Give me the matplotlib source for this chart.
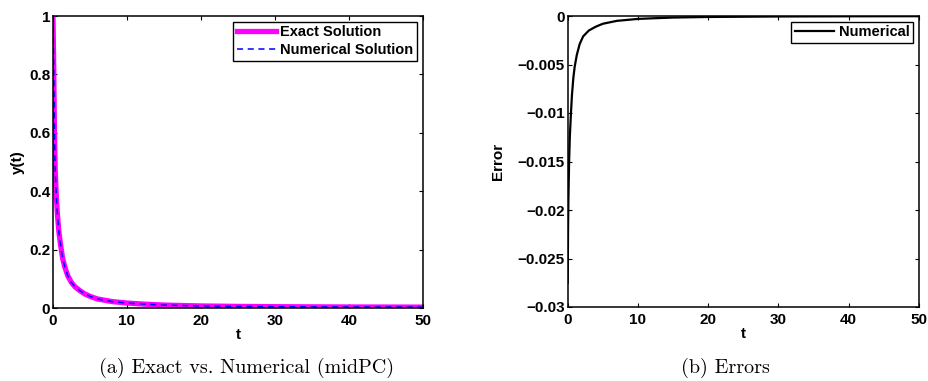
import numpy as np
import matplotlib
matplotlib.use("Agg")
import matplotlib.pyplot as plt

# values
t_sol = [0, 0.05, 0.1, 0.15, 0.2, 0.3, 0.45, 0.6, 0.8, 1.0, 1.3, 1.6, 2.0, 2.5, 3.0,
         3.6, 4.3, 5.0, 6.0, 8.0, 10, 12.5, 15, 20, 25, 30, 40, 50]
y_exact = [1.0, 0.9, 0.82, 0.7, 0.6, 0.47, 0.38, 0.32, 0.26, 0.22, 0.17, 0.14, 0.11,
           0.087, 0.072, 0.06, 0.048, 0.04, 0.031, 0.022, 0.017, 0.013, 0.01, 0.007,
           0.0055, 0.0045, 0.0035, 0.003]
y_num = y_exact  # the two curves lie on top of each other at this scale

t_err = [0, 0.05, 0.1, 0.2, 0.3, 0.45, 0.6, 0.8, 1.0, 1.3, 1.7, 2.2, 3.0, 4.0, 5.0,
         7.0, 10, 12, 15, 20, 30, 40, 50]
err = [-0.0275, -0.022, -0.019, -0.015, -0.0125, -0.0102, -0.0082, -0.0064, -0.0052,
       -0.0040, -0.0029, -0.0021, -0.0015, -0.0011, -0.0008, -0.0005, -0.0003,
       -0.00024, -0.00016, -0.0001, -0.00005, -0.00003, -0.00002]

xticks = [0, 10, 20, 30, 40, 50]
yticks_a = [0, 0.2, 0.4, 0.6, 0.8, 1]
yticklabels_a = ['0', '0.2', '0.4', '0.6', '0.8', '1']
yticks_b = [0, -0.005, -0.01, -0.015, -0.02, -0.025, -0.03]
yticklabels_b = ['0', '\u22120.005', '\u22120.01', '\u22120.015', '\u22120.02',
                 '\u22120.025', '\u22120.03']

plt.rcParams['font.family'] = ['Liberation Sans', 'DejaVu Sans']
plt.rcParams['font.weight'] = 'bold'
plt.rcParams['font.size'] = 11

fig = plt.figure(figsize=(9.29, 3.81), dpi=100)
ax1 = fig.add_axes([53/929, 1 - 308/381, 370/929, 292/381])
ax2 = fig.add_axes([567.7/929, 1 - 307/381, 351.3/929, 291/381])


def style_axes(ax):
    for s in ax.spines.values():
        s.set_linewidth(1.1)
    ax.tick_params(direction='in', top=True, right=True, length=3, width=0.8,
                   labelsize=11)
    ax.tick_params(axis='x', pad=4)
    ax.tick_params(axis='y', pad=2)
    for lab in ax.get_xticklabels() + ax.get_yticklabels():
        lab.set_fontweight('bold')


ax1.plot(t_sol, y_exact, color='#ff00ff', lw=3.8, label='Exact Solution')
ax1.plot(t_sol, y_num, color='blue', lw=1.1, ls=(0, (4, 3)), label='Numerical Solution')
ax1.set_xlim(0, 50)
ax1.set_ylim(0, 1)
ax1.set_xticks(xticks)
ax1.set_yticks(yticks_a)
ax1.set_yticklabels(yticklabels_a)
ax1.set_xlabel('t', fontweight='bold', fontsize=11, labelpad=0)
ax1.set_ylabel('y(t)', fontweight='bold', fontsize=11, labelpad=3)
style_axes(ax1)
leg1 = ax1.legend(loc='upper right', fancybox=False, edgecolor='black',
                  framealpha=1, handlelength=2.7, handletextpad=0.3,
                  borderpad=0.25, labelspacing=0.25, borderaxespad=0.4,
                  prop={'weight': 'bold', 'size': 10.5})
leg1.get_frame().set_linewidth(1.0)

ax2.plot(t_err, err, color='black', lw=1.6, label='Numerical')
ax2.set_xlim(0, 50)
ax2.set_ylim(-0.03, 0)
ax2.set_xticks(xticks)
ax2.set_yticks(yticks_b)
ax2.set_yticklabels(yticklabels_b)
ax2.set_xlabel('t', fontweight='bold', fontsize=11, labelpad=0)
ax2.set_ylabel('Error', fontweight='bold', fontsize=11, labelpad=9)
style_axes(ax2)
leg2 = ax2.legend(loc='upper right', fancybox=False, edgecolor='black',
                  framealpha=1, handlelength=2.7, handletextpad=0.3,
                  borderpad=0.25, borderaxespad=0.4,
                  prop={'weight': 'bold', 'size': 10.5})
leg2.get_frame().set_linewidth(1.0)

fig.text(247/929, 1 - 368/381, '(a) Exact vs. Numerical (midPC)', ha='center',
         va='center', family='cmr10', fontsize=14.5, fontweight='normal')
fig.text(725/929, 1 - 368/381, '(b) Errors', ha='center', va='center',
         family='cmr10', fontsize=14.5, fontweight='normal')

fig.savefig('out.png', dpi=100)
